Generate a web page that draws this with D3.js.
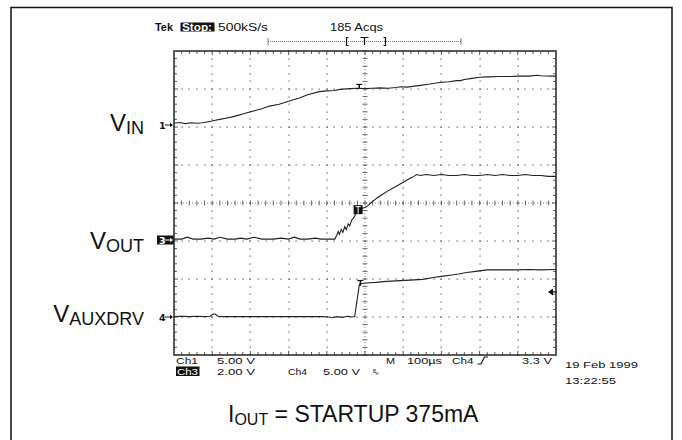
<!DOCTYPE html>
<html><head><meta charset="utf-8">
<script src="https://cdn.jsdelivr.net/npm/d3@7"></script>
<style>body{margin:0;background:#fff}</style>
</head><body>
<svg id="c" width="682" height="440"></svg>
<script>
// ---- data (time in µs relative to trigger, volts) ----
const vinTime  = [-500,-485,-470,-455,-440,-425,-410,-395,-380,-365,-350,-335,-320,-300,-285,-270,-250,-225,-200,-170,-150,-120,-100,-80,-65,-40,-20,0,20,40,60,80,95,110,140,170,195,220,240,250,260,280,300,320,350,380,400,430,450,460,490,500];
const vinVolts = [0.5,0.6,0.45,0.55,0.5,0.55,0.7,0.85,1.0,1.15,1.3,1.5,1.7,2.0,2.2,2.4,2.75,3.0,3.4,3.85,4.25,4.65,4.75,4.8,4.95,5.05,5.1,5.05,5.1,5.15,5.1,5.2,5.3,5.25,5.45,5.65,5.85,5.95,6.1,6.1,6.25,6.4,6.55,6.6,6.65,6.65,6.7,6.7,6.8,6.75,6.7,6.7];

const voutTime  = [-500,-480,-465,-450,-430,-410,-395,-380,-360,-340,-325,-310,-290,-270,-255,-240,-220,-200,-185,-170,-150,-130,-115,-100,-85,-79,-74,-70,-67,-62,-58,-53,-49,-44,-40,-35,-30,-25,-18,-10,4,15,30,45,57,75,92,105,118,128,135,145,160,180,200,220,240,260,280,300,320,340,360,380,400,420,440,460,480,500];
const voutVolts = [0.1,0.1,0.2,0.1,0.1,0.15,0.1,0.2,0.1,0.1,0.15,0.1,0.2,0.1,0.1,0.1,0.15,0.1,0.2,0.1,0.1,0.15,0.1,0.1,0.1,0.1,0.3,0.5,0.35,0.6,0.45,0.75,0.6,0.9,0.8,1.1,1.2,1.4,1.6,1.7,1.8,2.0,2.24,2.45,2.6,2.8,3.0,3.15,3.3,3.4,3.5,3.45,3.5,3.45,3.5,3.45,3.45,3.5,3.45,3.45,3.5,3.45,3.5,3.45,3.45,3.5,3.45,3.45,3.4,3.4];

const vauxTime  = [-500,-480,-460,-440,-420,-405,-398,-392,-385,-370,-350,-330,-310,-290,-270,-250,-230,-210,-190,-170,-150,-130,-110,-95,-85,-75,-60,-45,-35,-27,-15,-12,-8,10,30,48,80,118,150,179,200,223,245,266,290,319,350,397,430,460,497,500];
const vauxVolts = [0.05,0.1,0.05,0.1,0.05,0.1,0.4,0.4,0.1,0.05,
                   0.05,0.05,0.05,0.05,0.05,0.05,0.05,0.05,0.05,0.05,0.05,0.05,0.05,
                   0.0,-0.1,0.05,-0.05,0.1,0.0,0.05,
                   4.2,4.4,4.4,4.5,4.55,4.65,4.75,4.85,4.95,5.2,5.35,5.5,5.65,5.85,6.0,6.2,6.2,6.2,6.25,6.2,6.25,6.25];

const channelNames = ["1","3","4"];
const channelVoltsPerDiv = [5, 2, 5];
const channelGroundDiv = [6, 3, 1];
const seriesLabels = [["V","IN"],["V","OUT"],["V","AUXDRV"]];
const triggerLevel = 3.3; // Ch4, volts

// ---- layout ----
const svg = d3.select('#c');
const L=174, R=556, T=51, B=355;
const x = d3.scaleLinear().domain([-500,500]).range([L,R]);
const y = d3.scaleLinear().domain([0,8]).range([B,T]);
const xd = d3.scaleLinear().domain([0,10]).range([L,R]);

// outer frame
svg.append('rect').attr('x',11).attr('y',7.5).attr('width',661).attr('height',440)
  .attr('fill','none').attr('stroke','#111').attr('stroke-width',1.5);

const g = svg.append('g');
// grid dots
const dots = [];
for (let i=1;i<=9;i++){ if(i===5) continue; for(let j=0;j<=40;j++) dots.push([xd(i), y(j*0.2)]); }
for (let k=1;k<=7;k++){ if(k===4) continue; for(let j=0;j<=50;j++) dots.push([xd(j*0.2), y(k)]); }
g.selectAll('rect.dot').data(dots).join('rect').attr('class','dot')
  .attr('x',d=>Math.round(d[0])-0.5).attr('y',d=>Math.round(d[1])-0.5).attr('width',1.2).attr('height',1.2).attr('fill','#555');

// center lines
g.append('line').attr('x1',xd(5)).attr('x2',xd(5)).attr('y1',T).attr('y2',B)
  .attr('stroke','#666').attr('stroke-width',0.8).attr('stroke-dasharray','1,2');
g.append('line').attr('x1',L).attr('x2',R).attr('y1',y(4)).attr('y2',y(4))
  .attr('stroke','#666').attr('stroke-width',0.8).attr('stroke-dasharray','1,2');
for(let j=0;j<=40;j++){ const yy=y(j*0.2); g.append('line').attr('x1',xd(5)-2.5).attr('x2',xd(5)+2.5).attr('y1',yy).attr('y2',yy).attr('stroke','#444').attr('stroke-width',0.8); }
for(let j=0;j<=50;j++){ const xx=xd(j*0.2); g.append('line').attr('x1',xx).attr('x2',xx).attr('y1',y(4)-2.5).attr('y2',y(4)+2.5).attr('stroke','#444').attr('stroke-width',0.8); }

// border ticks
for(let j=1;j<50;j++){ const xx=xd(j*0.2); const len = (j%5===0)?4:3;
  g.append('line').attr('x1',xx).attr('x2',xx).attr('y1',T).attr('y2',T+len).attr('stroke','#444').attr('stroke-width',0.9);
  g.append('line').attr('x1',xx).attr('x2',xx).attr('y1',B).attr('y2',B-len).attr('stroke','#444').attr('stroke-width',0.9); }
for(let j=1;j<40;j++){ const yy=y(j*0.2); const len = (j%5===0)?4:3;
  g.append('line').attr('x1',L).attr('x2',L+len).attr('y1',yy).attr('y2',yy).attr('stroke','#444').attr('stroke-width',0.9);
  g.append('line').attr('x1',R).attr('x2',R-len).attr('y1',yy).attr('y2',yy).attr('stroke','#444').attr('stroke-width',0.9); }
g.append('rect').attr('x',L).attr('y',T).attr('width',R-L).attr('height',B-T)
  .attr('fill','none').attr('stroke','#333').attr('stroke-width',1.6);

// traces
const series = [[vinTime,vinVolts],[voutTime,voutVolts],[vauxTime,vauxVolts]];
series.forEach((s,ci)=>{
  const pts = s[0].map((t,i)=>[t, s[1][i]]);
  const line = d3.line().x(d=>x(d[0])).y(d=>y(channelGroundDiv[ci] + d[1]/channelVoltsPerDiv[ci]));
  svg.append('path').attr('d',line(pts)).attr('fill','none').attr('stroke','#222').attr('stroke-width',1.1);
});

// trigger "T" cursors on traces
function tCursor(xx, y0, y1){
  svg.append('line').attr('x1',xx-3).attr('x2',xx+3).attr('y1',y0).attr('y2',y0).attr('stroke','#111').attr('stroke-width',1.2);
  svg.append('line').attr('x1',xx).attr('x2',xx).attr('y1',y0).attr('y2',y1).attr('stroke','#111').attr('stroke-width',1.5);
}
tCursor(x(-15), y(channelGroundDiv[0]+5.6/5), y(channelGroundDiv[0]+5.1/5));
tCursor(x(-12), y(channelGroundDiv[2]+4.8/5), y(channelGroundDiv[2]+4.1/5));
// ch3 block marker
{ const cx = x(-18), cy = y(channelGroundDiv[1]+1.65/2);
  svg.append('rect').attr('x',cx-4.5).attr('y',cy-4.5).attr('width',9).attr('height',9).attr('fill','#111');
  svg.append('line').attr('x1',cx).attr('x2',cx).attr('y1',cy-3).attr('y2',cy+4).attr('stroke','#fff').attr('stroke-width',1);
  svg.append('line').attr('x1',cx-2.5).attr('x2',cx+2.5).attr('y1',cy-3).attr('y2',cy-3).attr('stroke','#fff').attr('stroke-width',1);
}

// channel ground markers
const markerDy = [-2, -1, 0];
channelNames.forEach((n,ci)=>{
  const yy = y(channelGroundDiv[ci]) + markerDy[ci];
  const inv = (n==="3");
  const col = inv ? '#fff' : '#111';
  if(inv) svg.append('rect').attr('x',157).attr('y',yy-4.5).attr('width',16.5).attr('height',9).attr('fill','#111');
  svg.append('text').attr('x',159).attr('y',yy+3.6).text(n)
    .attr('font-family','DejaVu Sans').attr('font-size',9.5).attr('font-weight','bold').attr('fill',col);
  svg.append('line').attr('x1',165).attr('x2',171).attr('y1',yy).attr('y2',yy).attr('stroke',col).attr('stroke-width',1);
  svg.append('path').attr('d',`M${173},${yy} l-3,-2.2 v4.4 z`).attr('fill',col);
});

// trigger level arrow (right edge)
{ const yy = y(channelGroundDiv[2] + triggerLevel/channelVoltsPerDiv[2]);
  svg.append('path').attr('d',`M548,${yy} l5,-3.5 v7 z`).attr('fill','#111');
  svg.append('line').attr('x1',552).attr('x2',557).attr('y1',yy).attr('y2',yy).attr('stroke','#111').attr('stroke-width',1.2);
}

// big series labels
const labelBaselines = [131, 248.5, 322];
seriesLabels.forEach((lab,i)=>{
  const t = svg.append('text').attr('x',144).attr('y',labelBaselines[i]).attr('text-anchor','end')
    .attr('font-family','Liberation Sans, Arial, sans-serif').attr('fill','#111');
  t.append('tspan').attr('font-size',24).text(lab[0]);
  t.append('tspan').attr('font-size',18).attr('dy',3).text(lab[1]);
});

// scope text helper
function st(xx, yy, s, len, opts={}){
  const t = svg.append('text').attr('x',xx).attr('y',yy).text(s)
    .attr('font-family','Liberation Sans, Arial, sans-serif').attr('font-size',opts.size||9.8)
    .attr('fill',opts.fill||'#111');
  if(opts.bold) t.attr('font-weight','bold');
  if(len) t.attr('textLength',len).attr('lengthAdjust','spacingAndGlyphs');
  return t;
}
// top header
st(155,30.5,'Tek',18,{size:10,bold:true});
svg.append('rect').attr('x',180.5).attr('y',22.5).attr('width',34).attr('height',9).attr('fill','#111');
st(182,30.5,'Stop:',30,{size:10,bold:true,fill:'#fff'});
st(218,30.5,'500kS/s',50,{size:10});
st(330,30.5,'185 Acqs',53,{size:10});
svg.append('line').attr('x1',268).attr('x2',461).attr('y1',41.5).attr('y2',41.5).attr('stroke','#555').attr('stroke-width',0.8).attr('stroke-dasharray','1,1');
[268,461].forEach(xx=>svg.append('line').attr('x1',xx).attr('x2',xx).attr('y1',38).attr('y2',45).attr('stroke','#555').attr('stroke-width',0.8));
svg.append('path').attr('d','M348.5,37.5 H346.5 V45.5 H348.5').attr('fill','none').attr('stroke','#111').attr('stroke-width',1.2);
svg.append('path').attr('d','M383.5,37.5 H385.5 V45.5 H383.5').attr('fill','none').attr('stroke','#111').attr('stroke-width',1.2);
svg.append('path').attr('d','M360.5,37.5 H368.5 M364.5,37.5 V45').attr('fill','none').attr('stroke','#111').attr('stroke-width',1.2);

// bottom readouts
st(176,364,'Ch1',22);
st(217,364,'5.00 V',38);
st(386,364,'M',9);
st(407,364,'100µs',35);
st(452,364,'Ch4',21.5);
svg.append('path').attr('d','M477.5,364 H481 L484.5,357 H488').attr('fill','none').attr('stroke','#111').attr('stroke-width',1.2);
st(522,364,'3.3 V',30);
st(565,367.5,'19 Feb 1999',73);
svg.append('rect').attr('x',176).attr('y',366.5).attr('width',23.5).attr('height',9.5).attr('fill','#111');
st(177,375,'Ch3',21,{fill:'#fff'});
st(217,375,'2.00 V',38);
st(288,375,'Ch4',19);
st(323,375,'5.00 V',37);
st(373,372.5,'B',3,{size:5});
st(375.5,374.5,'W',3,{size:4});
st(565,383.5,'13:22:55',51);

// footer caption
{ const t = svg.append('text').attr('x',228).attr('y',421.5)
    .attr('font-family','Liberation Sans, Arial, sans-serif').attr('fill','#111');
  t.append('tspan').attr('font-size',23).text('I');
  t.append('tspan').attr('font-size',16).attr('dy',3).text('OUT');
  t.append('tspan').attr('font-size',23).attr('dy',-3).text(' = STARTUP 375mA');
}
</script>
</body></html>
